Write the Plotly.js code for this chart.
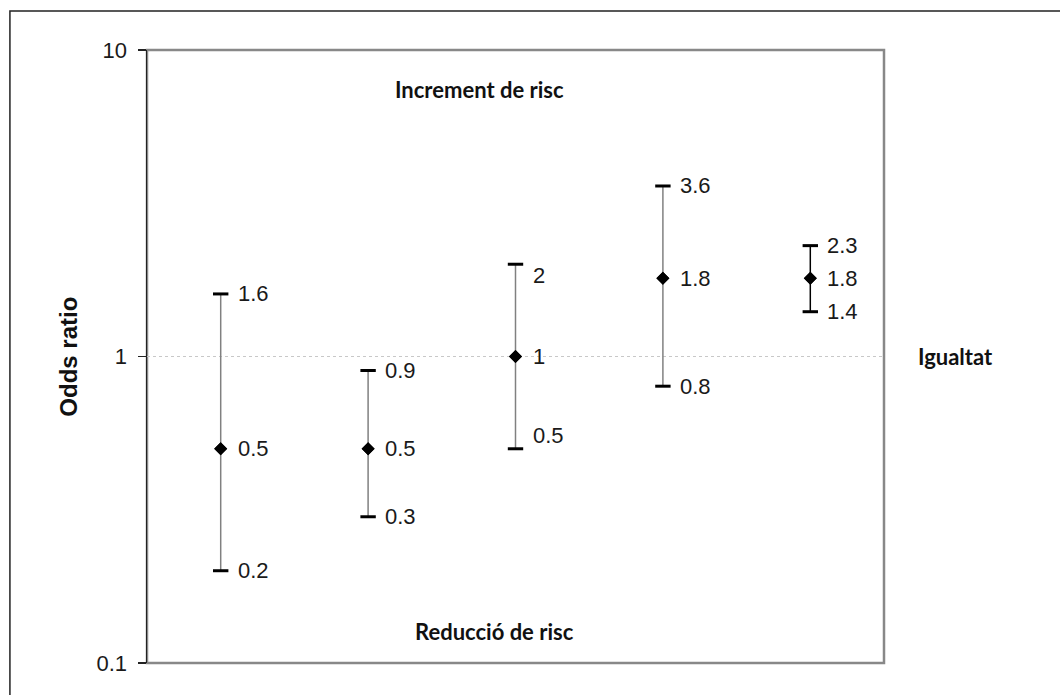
<!DOCTYPE html>
<html>
<head>
<meta charset="utf-8">
<script src="https://cdn.plot.ly/plotly-3.0.1.min.js"></script>
<style>
html,body{margin:0;padding:0;background:#fff;}
#chart{width:1060px;height:695px;}
</style>
</head>
<body>
<div id="chart"></div>
<script>
// Data
var studies = [0, 1, 2, 3, 4];
var oddsRatio = [0.5, 0.5, 1, 1.8, 1.8];
var ciLow = [0.2, 0.3, 0.5, 0.8, 1.4];
var ciHigh = [1.6, 0.9, 2, 3.6, 2.3];
var yTickVals = [0.1, 1, 10];
var yTickText = ['0.1', '1', '10'];
// styling per study
var barColors = ['#808080', '#808080', '#808080', '#808080', '#000000'];
var highLabelShift = [0, 0, -11, 0, 0];
var lowLabelShift = [0, 0, 13, 0, 0];

var traces = [];
studies.forEach(function (s, i) {
  traces.push({
    x: [s], y: [oddsRatio[i]],
    type: 'scatter', mode: 'markers',
    marker: {symbol: 'diamond', size: 10, color: '#000'},
    error_y: {
      type: 'data', symmetric: false,
      array: [ciHigh[i] - oddsRatio[i]],
      arrayminus: [oddsRatio[i] - ciLow[i]],
      color: barColors[i], thickness: 1.5, width: 0
    },
    hoverinfo: 'skip', showlegend: false
  });
});
// caps
traces.push({
  x: studies.concat(studies),
  y: ciLow.concat(ciHigh),
  type: 'scatter', mode: 'markers',
  marker: {symbol: 'line-ew', size: 11, color: '#000', line: {width: 3, color: '#000'}},
  hoverinfo: 'skip', showlegend: false
});
// redraw diamonds on top
traces.push({
  x: studies, y: oddsRatio, type: 'scatter', mode: 'markers',
  marker: {symbol: 'diamond', size: 10, color: '#000'},
  hoverinfo: 'skip', showlegend: false
});

var sans = 'Liberation Sans';
var labelFont = {family: sans, size: 22, color: '#1a1a1a'};
var boldFont = {family: 'Lato', size: 22, color: '#111', weight: 'bold'};

var annotations = [];
studies.forEach(function (s, i) {
  annotations.push({x: s, y: Math.log10(ciHigh[i]), text: String(ciHigh[i]), showarrow: false,
    xanchor: 'left', xshift: 15, yshift: highLabelShift[i], font: labelFont});
  annotations.push({x: s, y: Math.log10(oddsRatio[i]), text: String(oddsRatio[i]), showarrow: false,
    xanchor: 'left', xshift: 15, font: labelFont});
  annotations.push({x: s, y: Math.log10(ciLow[i]), text: String(ciLow[i]), showarrow: false,
    xanchor: 'left', xshift: 15, yshift: lowLabelShift[i], font: labelFont});
});
annotations.push({xref: 'paper', yref: 'paper', x: 0.4505, y: 0.935, xanchor: 'center', yanchor: 'middle',
  text: '<b>Increment de risc</b>', showarrow: false, font: boldFont});
annotations.push({xref: 'paper', yref: 'paper', x: 0.472, y: 0.0506, xanchor: 'center', yanchor: 'middle',
  text: '<b>Reducció de risc</b>', showarrow: false, font: boldFont});
annotations.push({xref: 'paper', yref: 'paper', x: 1.097, y: 0.5, xanchor: 'center', yanchor: 'middle',
  text: '<b>Igualtat</b>', showarrow: false, font: boldFont});
annotations.push({xref: 'paper', yref: 'paper', x: -0.107, y: 0.5, xanchor: 'center', yanchor: 'middle',
  text: '<b>Odds ratio</b>', textangle: -90,
  showarrow: false, font: {family: sans, size: 24, color: '#111', weight: 'bold'}});

var layout = {
  width: 1060, height: 695,
  margin: {l: 147, r: 176, t: 50, b: 32},
  paper_bgcolor: '#fff', plot_bgcolor: '#fff',
  showlegend: false,
  xaxis: {range: [-0.5, 4.5], showticklabels: false, showgrid: false, zeroline: false,
    showline: false, ticks: '', fixedrange: true},
  yaxis: {type: 'log', range: [-1, 1], tickvals: yTickVals, ticktext: yTickText,
    showgrid: true, gridcolor: '#c8c8c8', griddash: 'dot', gridwidth: 1,
    showline: true, linecolor: '#222', linewidth: 1.5,
    ticks: 'outside', ticklen: 8, tickcolor: '#222', tickwidth: 1.5,
    ticklabelstandoff: 6,
    tickfont: {family: sans, size: 22, color: '#1a1a1a'},
    zeroline: false, fixedrange: true},
  shapes: [
    {type: 'rect', xref: 'paper', yref: 'paper', x0: 0, x1: 1, y0: 0, y1: 1,
      line: {color: '#888', width: 2.5}, layer: 'below'},
    {type: 'rect', xref: 'paper', yref: 'paper', x0: -0.186, x1: 1.25, y0: -0.07, y1: 1.0636,
      line: {color: '#222', width: 1.5}, layer: 'below'}
  ],
  annotations: annotations
};

Plotly.newPlot('chart', traces, layout, {displayModeBar: false, staticPlot: true});
</script>
</body>
</html>
